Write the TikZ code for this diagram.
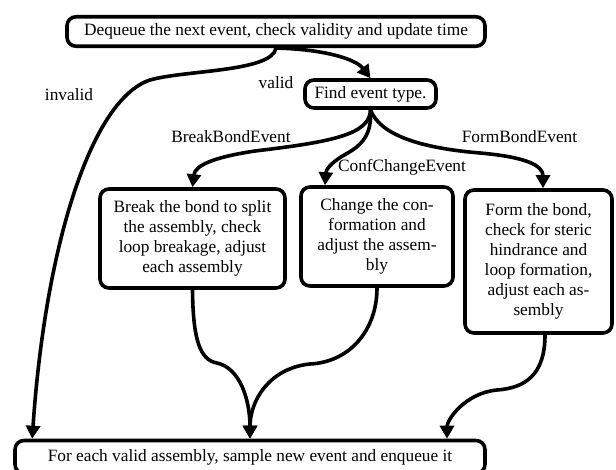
\documentclass[tikz,border=0pt]{standalone}
\usepackage{fontspec}
\setmainfont{Liberation Serif}
\usetikzlibrary{arrows.meta}

\begin{document}
\begin{tikzpicture}[x=1pt, y=-1pt, line width=3.6pt,
		box/.style={draw, rounded corners=9pt, align=center, inner sep=0pt, font=\fontsize{17.3}{20}\selectfont},
		lbl/.style={font=\fontsize{17.3}{20}\selectfont},
		flow/.style={-{Triangle[length=13pt,width=14pt]}}]
		\useasboundingbox (0,0) rectangle (616,470);

		\node[box, minimum width=418, minimum height=29.5] (deq) at (276,31.5) {Dequeue the next event, check validity and update time};
		\node[box, minimum width=131, minimum height=28] (find) at (370.5,94) {Find event type.};
		\node[box, minimum width=185, minimum height=99] (brk) at (192.5,238.5) {Break the bond to split\\the assembly, check\\loop breakage, adjust\\each assembly};
		\node[box, minimum width=152, minimum height=99] (conf) at (377,236.5) {Change the con-\\formation and\\adjust the assem-\\bly};
		\node[box, minimum width=147, minimum height=143] (form) at (538.5,261.5) {Form the bond,\\check for steric\\hindrance and\\loop formation,\\adjust each as-\\sembly};
		\node[box, minimum width=470, minimum height=33] (bot) at (250,457) {For each valid assembly, sample new event and enqueue it};

		\node[lbl] (invalid) at (69,95) {invalid};
		\node[lbl] (valid) at (276,83) {valid};
		\node[lbl] (brklbl) at (231,137) {BreakBondEvent};
		\node[lbl] (formlbl) at (519.5,137) {FormBondEvent};
		\node[lbl] (conflbl) at (402,167) {ConfChangeEvent};

		% branches
		\draw[flow] (deq.south) .. controls (320,49) and (355,58) .. (find.north);
		\draw[flow] (deq.south) .. controls (272,72) and (185,70) .. (150,80) .. controls (90,100) and (45,250) .. ([xshift=19pt]bot.north west);
		\draw[flow] (find.south) .. controls (370,135) and (330,142) .. (255,151) .. controls (215,157) and (195,165) .. (brk.north);
		\draw[flow] (find.south) .. controls (372,135) and (362,145) .. (346,154) .. controls (330,163) and (326,170) .. ([xshift=-52pt]conf.north);
		\draw[flow] (find.south) .. controls (380,135) and (420,148) .. (480,153) .. controls (525,157) and (543,165) .. ([xshift=4.5pt]form.north);

		\draw[flow] (brk.south) .. controls (193,340) and (200,360) .. (217,363) .. controls (240,368) and (250,400) .. (bot.north);
		\draw[flow] (conf.south) .. controls (377,330) and (350,362) .. (310,364) .. controls (270,368) and (250,400) .. (bot.north);
		\draw[flow] ([xshift=6.5pt]form.south) .. controls (545,375) and (525,388) .. (497,390) .. controls (465,393) and (447,420) .. ([xshift=197pt]bot.north);
	\end{tikzpicture}
\end{document}
